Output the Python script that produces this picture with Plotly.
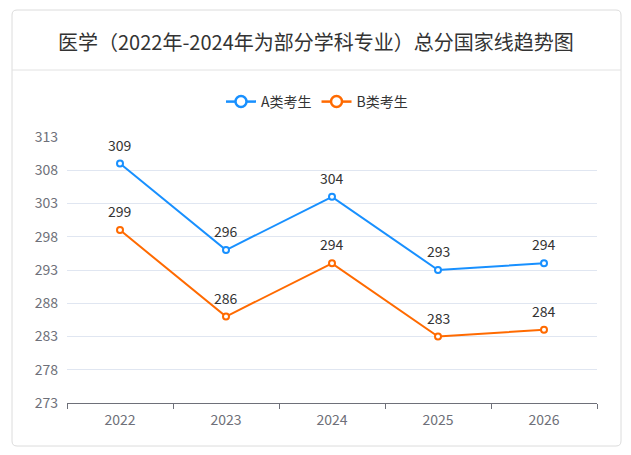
import plotly.graph_objects as go

years = ["2022", "2023", "2024", "2025", "2026"]
a_scores = [309, 296, 304, 293, 294]
b_scores = [299, 286, 294, 283, 284]
y_ticks = [273, 278, 283, 288, 293, 298, 303, 308, 313]
title_text = "医学（2022年-2024年为部分学科专业）总分国家线趋势图"

W, H = 631, 455
L, R, T, B = 67, 597, 137, 403
pw, ph = R - L, B - T

def px(x):
    return (x - L) / pw

def py(y):
    return (B - y) / ph

FONT = "Noto Sans CJK SC, Microsoft YaHei, sans-serif"

fig = go.Figure()
series = [("A类考生", a_scores, "#1890ff"), ("B类考生", b_scores, "#ff6a00")]
for name, vals, color in series:
    fig.add_trace(go.Scatter(
        x=years, y=vals, name=name, mode="lines+markers", showlegend=False,
        line=dict(color=color, width=2),
        marker=dict(symbol="circle", size=6, color="white", line=dict(color=color, width=2)),
        cliponaxis=False, hoverinfo="skip",
    ))
    for i, v in enumerate(vals):
        fig.add_annotation(x=i, y=v, xref="x", yref="y", text=str(v), showarrow=False, yshift=19,
                           xanchor="center", yanchor="middle",
                           font=dict(size=14, color="#333333", family=FONT))
# legend entries with larger symbols
for name, vals, color in series:
    fig.add_trace(go.Scatter(
        x=[None], y=[None], name=name, mode="lines+markers",
        line=dict(color=color, width=2.5),
        marker=dict(symbol="circle", size=11, color="white", line=dict(color=color, width=2.5)),
    ))

# card with rounded corners
x0, x1 = px(12), px(621)
y0, y1 = py(446), py(10)
rx, ry = 5 / pw, 5 / ph
path = (f"M {x0+rx},{y1} L {x1-rx},{y1} Q {x1},{y1} {x1},{y1-ry} "
        f"L {x1},{y0+ry} Q {x1},{y0} {x1-rx},{y0} "
        f"L {x0+rx},{y0} Q {x0},{y0} {x0},{y0+ry} "
        f"L {x0},{y1-ry} Q {x0},{y1} {x0+rx},{y1} Z")
fig.add_shape(type="path", path=path, xref="paper", yref="paper",
              line=dict(color="#dcdcdc", width=1), fillcolor="rgba(0,0,0,0)", layer="below")
fig.add_shape(type="line", xref="paper", yref="paper", x0=x0, x1=x1, y0=py(70), y1=py(70),
              line=dict(color="#e2e2e2", width=1))

fig.add_annotation(text=title_text, xref="paper", yref="paper", x=px(316), y=py(41),
                   xanchor="center", yanchor="middle", showarrow=False,
                   font=dict(size=20, color="#333333", family=FONT))

fig.update_layout(
    width=W, height=H,
    margin=dict(l=L, r=W - R, t=T, b=H - B),
    paper_bgcolor="white", plot_bgcolor="white",
    font=dict(family=FONT, color="#333333"),
    showlegend=True,
    legend=dict(orientation="h", x=px(317), xanchor="center", y=py(102), yanchor="middle",
                font=dict(size=14, color="#333333"), bgcolor="rgba(0,0,0,0)",
                itemwidth=30, tracegroupgap=0),
    xaxis=dict(type="category", range=[-0.5, 4.5], tickson="boundaries", ticks="outside",
               ticklen=5, tickcolor="#6e7079", showline=True, linecolor="#6e7079", linewidth=1,
               showgrid=False, tickfont=dict(size=14, color="#6e7079"), ticklabelstandoff=4,
               fixedrange=True),
    yaxis=dict(range=[273, 313], tickvals=y_ticks, showline=False, ticks="",
               gridcolor="#e0e6f1", gridwidth=1, zeroline=False,
               tickfont=dict(size=14, color="#6e7079"), ticklabelstandoff=8, fixedrange=True),
)

fig.write_html("out.html", config={"displayModeBar": False},
               post_script="document.body.style.margin='0';")
